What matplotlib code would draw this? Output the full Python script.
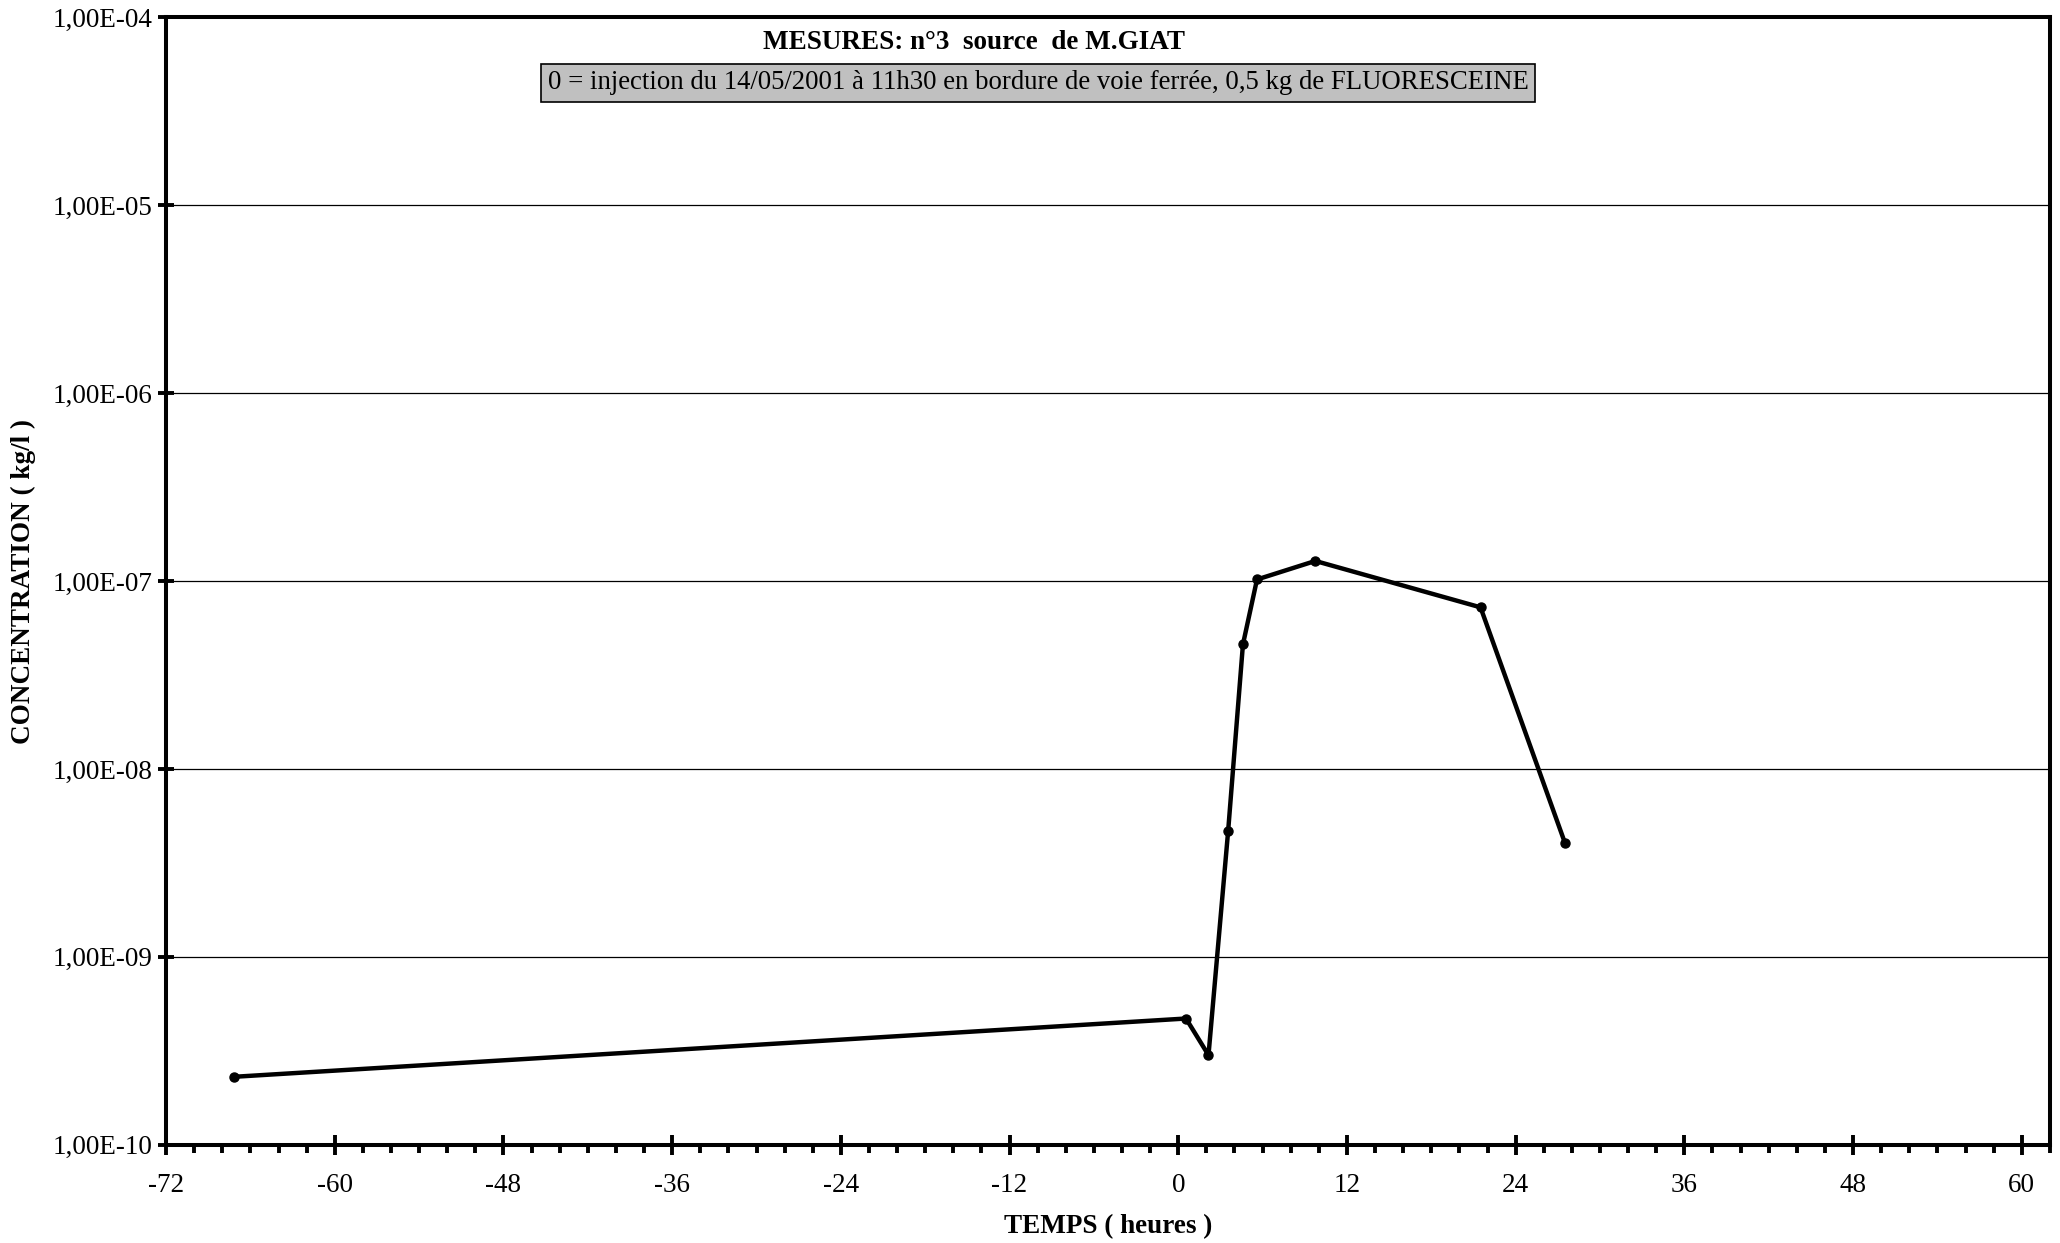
import matplotlib.pyplot as plt
import matplotlib.ticker as mticker
import numpy as np

# Measured fluorescein concentration, source n°3 (M.GIAT)
temps = [-67.2, 0.55, 2.15, 3.55, 4.6, 5.6, 9.75, 21.5, 27.5]
concentration = [2.3e-10, 4.7e-10, 3.0e-10, 4.7e-9, 4.6e-8, 1.02e-7, 1.28e-7, 7.25e-8, 4.05e-9]

x_ticks = list(range(-72, 61, 12))
y_ticks = [1e-10, 1e-9, 1e-8, 1e-7, 1e-6, 1e-5, 1e-4]

plt.rcParams['font.family'] = ['Liberation Serif', 'DejaVu Serif']
plt.rcParams['axes.unicode_minus'] = False

fig = plt.figure(figsize=(20.6, 12.43), dpi=100)
ax = fig.add_axes([0.0806, 0.079, 0.9145, 0.907])

ax.plot(temps, concentration, color='black', linewidth=3.2,
        marker='o', markersize=6.5, markerfacecolor='black', markeredgecolor='black')

ax.set_yscale('log')
ax.set_xlim(-72, 62)
ax.set_ylim(1e-10, 1e-4)

ax.xaxis.set_major_locator(mticker.FixedLocator(x_ticks))
ax.xaxis.set_minor_locator(mticker.MultipleLocator(2))
ax.yaxis.set_major_locator(mticker.FixedLocator(y_ticks))
ax.yaxis.set_minor_locator(mticker.NullLocator())


def sci_fmt(v, pos):
    e = int(np.round(np.log10(v)))
    m = v / 10 ** e
    return f"{m:.2f}".replace('.', ',') + f"E-{abs(e):02d}"


ax.yaxis.set_major_formatter(mticker.FuncFormatter(sci_fmt))

ax.tick_params(axis='x', which='major', direction='inout', length=14, width=2.8,
               labelsize=19.5, pad=13)
ax.tick_params(axis='x', which='minor', direction='out', length=6, width=2.8)
ax.tick_params(axis='y', which='major', direction='inout', length=12, width=2.8,
               labelsize=19.5, pad=4)

for s in ax.spines.values():
    s.set_linewidth(2.9)
    s.set_color('black')

ax.grid(axis='y', which='major', color='black', linewidth=0.9)
ax.set_axisbelow(True)

ax.set_xlabel('TEMPS ( heures )', fontsize=19.5, fontweight='bold', labelpad=12)
ax.set_ylabel('CONCENTRATION ( kg/l )', fontsize=19.5, fontweight='bold', labelpad=12)

ax.text(0.429, 0.978, 'MESURES: n°3  source  de M.GIAT', transform=ax.transAxes,
        ha='center', va='center', fontsize=19.5, fontweight='bold')
ax.text(0.463, 0.942,
        '0 = injection du 14/05/2001 à 11h30 en bordure de voie ferrée, 0,5 kg de FLUORESCEINE',
        transform=ax.transAxes, ha='center', va='center', fontsize=19.3,
        bbox=dict(boxstyle='square,pad=0.25', facecolor='#c0c0c0', edgecolor='black', linewidth=1.2))

fig.savefig('out.png', dpi=100)
